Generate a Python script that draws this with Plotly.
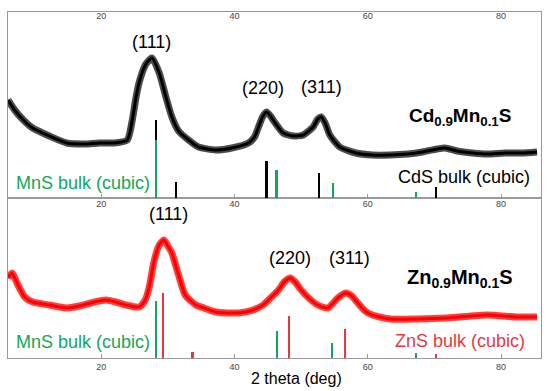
import plotly.graph_objects as go

# ---------------- data ----------------
# Cd0.9Mn0.1S pattern (2theta in deg, intensity a.u.)
cd_theta = [6.0, 7.0, 8.3, 9.7, 12.2, 14.8, 17.5, 19.7, 21.9, 23.9, 24.6, 25.2, 25.7, 26.7,
            27.6, 28.7, 29.7, 30.6, 31.6, 33.1, 34.6, 37.2, 39.6, 42.1, 43.0, 43.6, 44.2,
            44.8, 45.4, 46.0, 47.3, 48.8, 50.3, 51.8, 52.5, 53.0, 53.6, 54.3, 55.8, 58.2,
            60.7, 63.3, 66.0, 68.2, 70.4, 71.6, 73.4, 75.7, 77.9, 80.6, 83.1, 85.4]
cd_int = [98, 88, 78, 70, 62, 55, 54, 55, 55, 58, 76, 100, 116, 134,
          140, 125, 101, 81, 67, 58, 51, 48, 50, 55, 61, 71, 81,
          86, 82, 76, 65, 62, 63, 71, 79, 81, 75, 63, 51, 45,
          43, 43, 44, 46, 49, 50, 47, 45, 44, 45, 45, 46]

# Zn0.9Mn0.1S pattern
zn_theta = [6.0, 6.6, 7.5, 8.5, 9.7, 12.2, 14.8, 16.7, 19.0, 20.7, 22.2, 23.7, 25.7, 26.6,
            27.2, 27.9, 28.7, 29.4, 30.0, 30.6, 31.6, 32.6, 34.2, 35.4, 37.2, 40.6, 42.8,
            44.3, 45.1, 46.6, 47.6, 48.4, 49.1, 50.0, 51.3, 52.5, 54.0, 55.5, 56.7, 57.6,
            58.5, 59.6, 60.7, 63.4, 67.5, 71.9, 77.9, 82.4, 85.4]
zn_int = [80, 85, 73, 61, 56, 53, 50, 52, 56, 58, 56, 53, 51, 58,
          71, 96, 113, 118, 112, 105, 83, 63, 53, 50, 46, 45, 48,
          53, 58, 68, 77, 80, 76, 68, 59, 53, 50, 60, 65, 62,
          55, 47, 43, 39, 39, 40, 43, 41, 41]

# reference sticks, top panel
cds_pos = [28.2, 31.2, 44.8, 52.7, 70.3]
cds_int = [78, 16, 37, 25, 11]
mns_top_pos = [28.2, 46.3, 54.8, 67.2]
mns_top_int = [58, 28, 15, 6]

# reference sticks, bottom panel
zns_pos = [29.3, 33.7, 48.2, 56.6, 70.2]
zns_int = [65, 6, 42, 29, 4]
mns_bot_pos = [28.2, 46.4, 54.6, 67.2]
mns_bot_int = [57, 27, 15, 5]

tick_vals = [20, 40, 60, 80]
tick_text = ["20", "40", "60", "80"]

# ---------------- figure ----------------
FONT = "Arial, Liberation Sans, sans-serif"
GREEN = "#12a85a"
RED_STICK = "#e8383d"
FRAME = "#9a9a9a"

fig = go.Figure()

# top panel pattern (noise band + core)
fig.add_trace(go.Scatter(x=cd_theta, y=cd_int, mode="lines", xaxis="x2", yaxis="y2",
                         line=dict(color="rgba(0,0,0,0.7)", width=7, shape="spline", smoothing=0.6),
                         hoverinfo="skip", showlegend=False))
fig.add_trace(go.Scatter(x=cd_theta, y=cd_int, mode="lines", xaxis="x2", yaxis="y2",
                         line=dict(color="black", width=3, shape="spline", smoothing=0.6),
                         showlegend=False))
fig.add_trace(go.Bar(x=cds_pos, y=cds_int, width=0.32, xaxis="x2", yaxis="y2",
                     marker=dict(color="black", line=dict(width=0)), showlegend=False))
fig.add_trace(go.Bar(x=mns_top_pos, y=mns_top_int, width=0.32, xaxis="x2", yaxis="y2",
                     marker=dict(color=GREEN, line=dict(width=0)), showlegend=False))

# bottom panel pattern
fig.add_trace(go.Scatter(x=zn_theta, y=zn_int, mode="lines", xaxis="x", yaxis="y",
                         line=dict(color="rgba(255,0,0,0.75)", width=7, shape="spline", smoothing=0.6),
                         hoverinfo="skip", showlegend=False))
fig.add_trace(go.Scatter(x=zn_theta, y=zn_int, mode="lines", xaxis="x", yaxis="y",
                         line=dict(color="red", width=3, shape="spline", smoothing=0.6),
                         showlegend=False))
fig.add_trace(go.Bar(x=mns_bot_pos, y=mns_bot_int, width=0.32, xaxis="x", yaxis="y",
                     marker=dict(color=GREEN, line=dict(width=0)), showlegend=False))
fig.add_trace(go.Bar(x=zns_pos, y=zns_int, width=0.32, xaxis="x", yaxis="y",
                     marker=dict(color=RED_STICK, line=dict(width=0)), showlegend=False))

# invisible traces for the overlay axes
fig.add_trace(go.Scatter(x=[50], y=[0], xaxis="x3", yaxis="y", mode="markers",
                         marker=dict(opacity=0), hoverinfo="skip", showlegend=False))
fig.add_trace(go.Scatter(x=[50], y=[0], xaxis="x4", yaxis="y2", mode="markers",
                         marker=dict(opacity=0), hoverinfo="skip", showlegend=False))

XR = [6, 86]
SPLIT = 160 / 346
tickfont = dict(family=FONT, size=9, color="#444")

common_x = dict(range=XR, tickvals=tick_vals, ticktext=tick_text, showgrid=False,
                zeroline=False, tickfont=tickfont)

annotations = []

def ann(text, x, y, xref, yref, size, color="black", bold=False):
    annotations.append(dict(text=f"<b>{text}</b>" if bold else text, x=x, y=y,
                            xref=xref, yref=yref, showarrow=False,
                            font=dict(family=FONT, size=size, color=color),
                            xanchor="center", yanchor="middle"))

# top panel labels
ann("(111)", 27.6, 156, "x2", "y2", 18)
ann("(220)", 44.3, 110, "x2", "y2", 18)
ann("(311)", 53.1, 111, "x2", "y2", 18)
ann("Cd<sub>0.9</sub>Mn<sub>0.1</sub>S", 73.8, 81, "x2", "y2", 19, bold=True)
ann("CdS bulk (cubic)", 74.5, 21, "x2", "y2", 18)
ann("MnS bulk (cubic)", 17.2, 15, "x2", "y2", 18, color=GREEN)

# bottom panel labels
ann("(111)", 30.1, 144, "x", "y", 18)
ann("(220)", 48.4, 100, "x", "y", 18)
ann("(311)", 57.3, 100, "x", "y", 18)
ann("Zn<sub>0.9</sub>Mn<sub>0.1</sub>S", 73.8, 80, "x", "y", 20, bold=True)
ann("ZnS bulk (cubic)", 73.9, 17, "x", "y", 18, color=RED_STICK)
ann("MnS bulk (cubic)", 17.2, 16, "x", "y", 18, color=GREEN)

# axis title
ann("2 theta (deg)", 0.542, -0.058, "paper", "paper", 16)

fig.update_layout(
    width=550, height=391,
    margin=dict(l=8, r=9, t=12, b=33),
    paper_bgcolor="white", plot_bgcolor="white",
    barmode="overlay", bargap=0,
    showlegend=False,
    xaxis=dict(**common_x, domain=[0, 1], anchor="y", side="bottom",
               ticks="inside", ticklen=4, tickcolor=FRAME,
               showline=True, mirror=True, linecolor=FRAME, linewidth=1),
    xaxis3=dict(**common_x, overlaying="x", anchor="y", side="top",
                ticklabelposition="inside", ticks="", showline=False),
    xaxis2=dict(**common_x, domain=[0, 1], anchor="y2", side="top",
                ticklabelposition="inside", ticks="",
                showline=True, mirror=True, linecolor=FRAME, linewidth=1),
    xaxis4=dict(**common_x, overlaying="x2", anchor="y2", side="bottom",
                showticklabels=False, ticks="inside", ticklen=4, tickcolor=FRAME,
                showline=False),
    yaxis=dict(domain=[0, SPLIT], range=[0, 160], showticklabels=False, ticks="",
               showgrid=False, zeroline=False, showline=True, mirror=True,
               linecolor=FRAME, linewidth=1),
    yaxis2=dict(domain=[SPLIT, 1], range=[0, 186], showticklabels=False, ticks="",
                showgrid=False, zeroline=False, showline=True, mirror=True,
                linecolor=FRAME, linewidth=1),
    annotations=annotations,
)

fig.write_html("out.html", config={"displayModeBar": False},
               post_script="document.body.style.margin='0';")
